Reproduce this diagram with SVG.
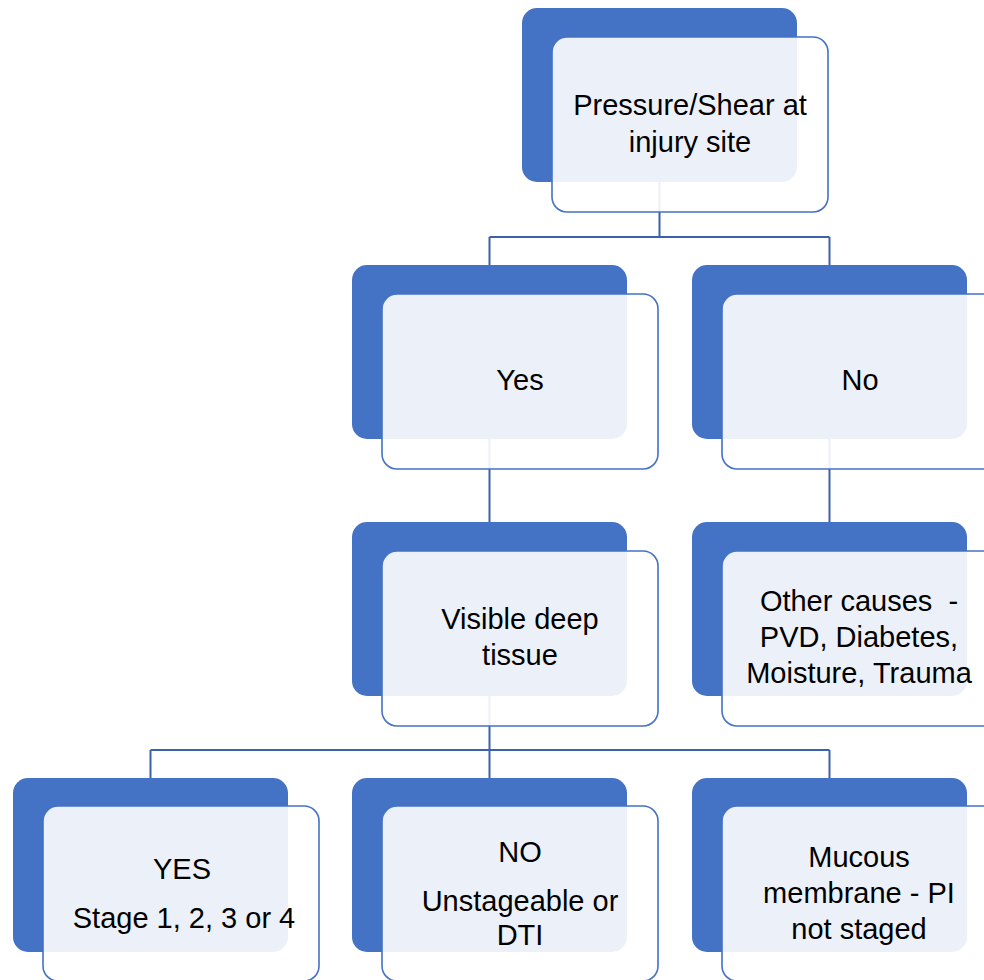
<svg xmlns="http://www.w3.org/2000/svg" width="984" height="980" viewBox="0 0 984 980">
<style>
.back{fill:#4472C4}
.front{fill:#FFFFFF;fill-opacity:0.9;stroke:#4472C4;stroke-width:1.6}
.conn{fill:none;stroke:#3A62A8;stroke-width:2}
.t{font-family:"Liberation Sans",Arial,sans-serif;font-size:29px;fill:#000;text-anchor:middle}
</style>
<rect width="984" height="980" fill="#FFFFFF"/>
<g id="connectors">
<path class="conn" d="M659.5,182 V237 M489.5,237 H829.5 M489.5,237 V265 M829.5,237 V265"/>
<path class="conn" d="M489.5,438 V522"/>
<path class="conn" d="M829.5,438 V522"/>
<path class="conn" d="M489.5,695 V750 M150.5,750 H829.5 M150.5,750 V778 M489.5,750 V778 M829.5,750 V778"/>
</g>
<g id="node-pressure">
<rect class="back" x="522" y="8" width="275" height="174" rx="15"/>
<rect class="front" x="552" y="37" width="276" height="175" rx="15"/>
<text class="t" x="690" y="115">Pressure/Shear at</text>
<text class="t" x="690" y="152">injury site</text>
</g>
<g id="node-yes">
<rect class="back" x="352" y="265" width="275" height="174" rx="15"/>
<rect class="front" x="382" y="294" width="276" height="175" rx="15"/>
<text class="t" x="520" y="390">Yes</text>
</g>
<g id="node-no">
<rect class="back" x="692" y="265" width="275" height="174" rx="15"/>
<rect class="front" x="722" y="294" width="276" height="175" rx="15"/>
<text class="t" x="860" y="390">No</text>
</g>
<g id="node-visible">
<rect class="back" x="352" y="522" width="275" height="174" rx="15"/>
<rect class="front" x="382" y="551" width="276" height="175" rx="15"/>
<text class="t" x="520" y="629">Visible deep</text>
<text class="t" x="520" y="665">tissue</text>
</g>
<g id="node-other">
<rect class="back" x="692" y="522" width="275" height="174" rx="15"/>
<rect class="front" x="722" y="551" width="276" height="175" rx="15"/>
<text class="t" x="859" y="611" xml:space="preserve">Other causes  -</text>
<text class="t" x="859" y="647">PVD, Diabetes,</text>
<text class="t" x="859" y="683">Moisture, Trauma</text>
</g>
<g id="node-stage">
<rect class="back" x="13" y="778" width="275" height="174" rx="15"/>
<rect class="front" x="43" y="806" width="276" height="175" rx="15"/>
<text class="t" x="182" y="879">YES</text>
<text class="t" x="184" y="928">Stage 1, 2, 3 or 4</text>
</g>
<g id="node-unstageable">
<rect class="back" x="352" y="778" width="275" height="174" rx="15"/>
<rect class="front" x="382" y="806" width="276" height="175" rx="15"/>
<text class="t" x="520" y="862">NO</text>
<text class="t" x="520" y="911">Unstageable or</text>
<text class="t" x="520" y="945">DTI</text>
</g>
<g id="node-mucous">
<rect class="back" x="692" y="778" width="275" height="174" rx="15"/>
<rect class="front" x="722" y="806" width="276" height="175" rx="15"/>
<text class="t" x="859" y="867">Mucous</text>
<text class="t" x="859" y="903">membrane - PI</text>
<text class="t" x="859" y="939">not staged</text>
</g>
</svg>
